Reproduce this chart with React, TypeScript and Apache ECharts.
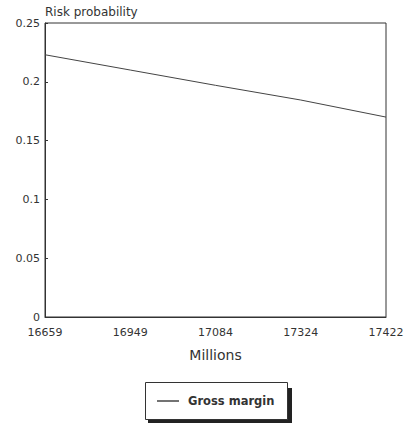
import React, { useEffect, useRef } from "react";
import * as echarts from "echarts";

const categories = ["16659", "16949", "17084", "17324", "17422"];
const grossMargin = [0.223, 0.21, 0.197, 0.1845, 0.17];
const yTicks = [0, 0.05, 0.1, 0.15, 0.2, 0.25];

export default function App() {
  const ref = useRef<HTMLDivElement>(null);
  useEffect(() => {
    const chart = echarts.init(ref.current!, null, { renderer: "svg" });
    const font = "'DejaVu Sans', 'Liberation Sans', Arial, sans-serif";
    chart.setOption({
      animation: false,
      backgroundColor: "#fff",
      textStyle: { fontFamily: font },
      grid: { left: 45, right: 28, top: 23, bottom: 108, show: true, borderColor: "#333", borderWidth: 1 },
      xAxis: {
        type: "category",
        data: categories,
        boundaryGap: false,
        name: "Millions",
        nameLocation: "middle",
        nameGap: 31,
        nameTextStyle: { fontSize: 14, color: "#333", fontFamily: font },
        axisLine: { lineStyle: { color: "#333" } },
        axisTick: { show: false },
        axisLabel: { fontSize: 11, color: "#333", margin: 10, fontFamily: font },
      },
      yAxis: {
        type: "value",
        min: 0,
        max: 0.25,
        interval: 0.05,
        name: "Risk probability",
        nameLocation: "end",
        nameGap: 5,
        nameTextStyle: { fontSize: 12, color: "#333", align: "left", padding: [0, 0, 0, 0], fontFamily: font },
        axisLine: { show: true, lineStyle: { color: "#333" } },
        axisTick: { show: true, inside: true, length: 3, lineStyle: { color: "#333" } },
        splitLine: { show: false },
        axisLabel: {
          fontSize: 11,
          color: "#333",
          margin: 5,
          fontFamily: font,
          formatter: (v: number) => (yTicks.includes(Math.round(v * 100) / 100) ? String(Math.round(v * 100) / 100) : ""),
        },
      },
      legend: {
        left: 157,
        top: 395,
        icon: "rect",
        itemWidth: 22,
        itemHeight: 1.5,
        itemGap: 8,
        padding: 0,
        textStyle: { fontSize: 11.5, fontWeight: "bold", color: "#333", fontFamily: font, padding: [0, 0, 0, 4] },
        data: ["Gross margin"],
      },
      graphic: [
        { type: "rect", shape: { x: 287, y: 388, width: 5, height: 35 }, style: { fill: "#222" }, z: -1 },
        { type: "rect", shape: { x: 148, y: 419, width: 144, height: 4 }, style: { fill: "#222" }, z: -1 },
        { type: "rect", shape: { x: 145.5, y: 382.5, width: 142, height: 37 }, style: { fill: "#fff", stroke: "#333", lineWidth: 1 }, z: -1 },
      ],
      series: [
        {
          name: "Gross margin",
          type: "line",
          data: grossMargin,
          symbol: "none",
          lineStyle: { color: "#444", width: 1 },
          itemStyle: { color: "#444" },
        },
      ],
    });
    return () => chart.dispose();
  }, []);
  return <div ref={ref} style={{ position: "absolute", left: 0, top: 0, width: 414, height: 425 }} />;
}
